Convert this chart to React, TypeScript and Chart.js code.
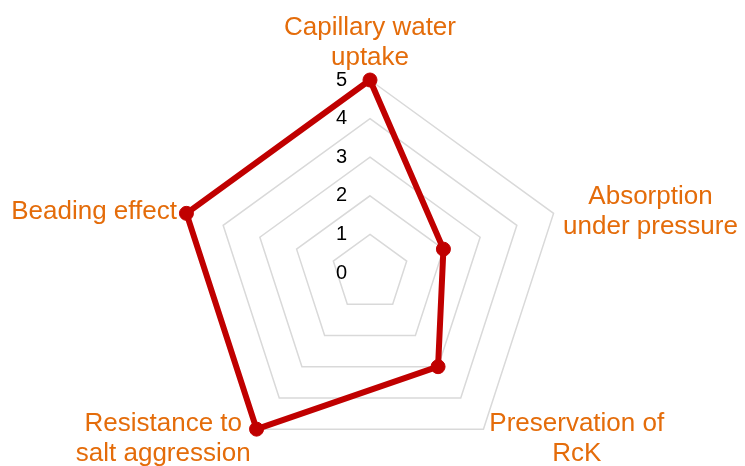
import React, { useEffect, useRef } from "react";
import { Chart, registerables } from "chart.js";

Chart.register(...registerables);

const categories: string[][] = [
  ["Capillary water", "uptake"],
  ["Absorption", "under pressure"],
  ["Preservation of", "RcK"],
  ["Resistance to", "salt aggression"],
  ["Beading effect"],
];
const seriesValues = [5, 2, 3, 5, 5];
const tickValues = [0, 1, 2, 3, 4, 5];
const tickLabels = ["0", "1", "2", "3", "4", "5"];

const FONT = "'Liberation Sans', Arial, sans-serif";
const LABEL_COLOR = "#E46C0A";
const SERIES_COLOR = "#C00000";

const labelPlugin = {
  id: "excelLabels",
  beforeDatasetsDraw(chart: any) {
    const scale = chart.scales.r;
    const ctx = chart.ctx as CanvasRenderingContext2D;
    ctx.save();
    // tick labels, left of the vertical axis
    ctx.font = `20px ${FONT}`;
    ctx.fillStyle = "#000000";
    ctx.textAlign = "right";
    ctx.textBaseline = "middle";
    tickValues.forEach((v, i) => {
      const y = scale.yCenter - scale.getDistanceFromCenterForValue(v);
      ctx.fillText(tickLabels[i], scale.xCenter - 23, y);
    });
    // category labels, centred multi-line
    const lh = 30;
    ctx.font = `26px ${FONT}`;
    ctx.fillStyle = LABEL_COLOR;
    ctx.textAlign = "center";
    categories.forEach((lines, i) => {
      const p = scale.getPointPosition(i, scale.drawingArea + 10);
      const deg = Math.round((scale.getIndexAngle(i) * 180) / Math.PI) % 360;
      const w = Math.max(...lines.map((l) => ctx.measureText(l).width));
      const h = lines.length * lh;
      let cx: number;
      let top: number;
      if (deg === 0) {
        cx = p.x;
        top = p.y + 3 - h;
      } else if (deg === 180) {
        cx = p.x;
        top = p.y;
      } else {
        cx = deg < 180 ? p.x + w / 2 : p.x - w / 2;
        top = p.y + 2 - h / 2;
      }
      lines.forEach((l, j) => ctx.fillText(l, cx, top + lh * (j + 0.5)));
    });
    ctx.restore();
  },
};

export default function App() {
  const ref = useRef<HTMLCanvasElement | null>(null);
  useEffect(() => {
    document.body.style.margin = "0";
    const canvas = ref.current;
    if (!canvas) return;
    const chart = new Chart(canvas, {
      type: "radar",
      data: {
        labels: categories,
        datasets: [
          {
            data: seriesValues,
            borderColor: SERIES_COLOR,
            backgroundColor: SERIES_COLOR,
            borderWidth: 6,
            borderJoinStyle: "round",
            fill: false,
            pointRadius: 7,
            pointBorderWidth: 1,
            pointBackgroundColor: SERIES_COLOR,
            pointBorderColor: SERIES_COLOR,
          },
        ],
      },
      options: {
        animation: false,
        responsive: true,
        maintainAspectRatio: false,
        layout: { padding: { left: 176, right: 181, top: 80, bottom: -2 } },
        plugins: { legend: { display: false }, tooltip: { enabled: false } },
        scales: {
          r: {
            min: 0,
            max: 5,
            ticks: { stepSize: 1, display: false },
            grid: { color: "#d9d9d9", lineWidth: 1.5, circular: false },
            angleLines: { display: false },
            pointLabels: { display: false },
          },
        },
      },
      plugins: [labelPlugin],
    });
    return () => chart.destroy();
  }, []);
  return (
    <div style={{ width: 745, height: 466, position: "relative" }}>
      <canvas ref={ref} />
    </div>
  );
}
